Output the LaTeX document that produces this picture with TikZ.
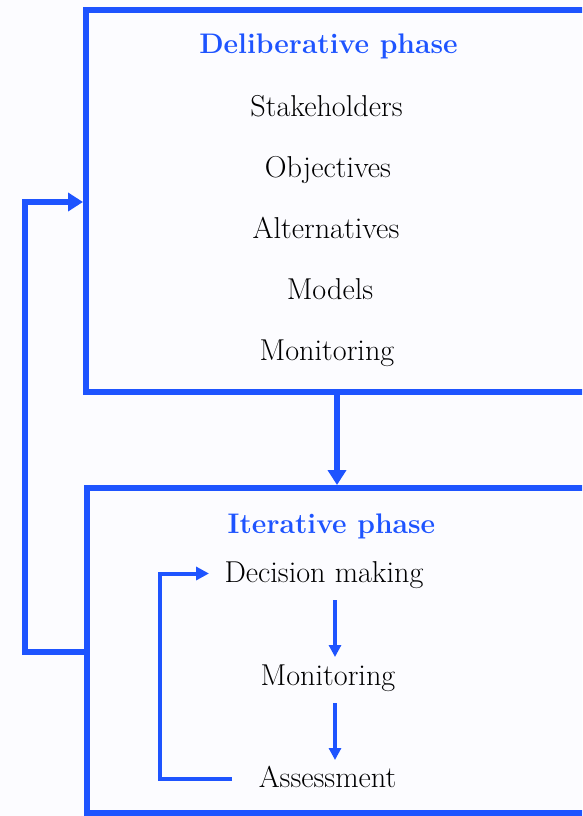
\documentclass[tikz,border=0pt]{standalone}
\usetikzlibrary{arrows.meta}
\definecolor{pblue}{RGB}{30,84,255}
\tikzset{
  phasebox/.style={draw=pblue, line width=6pt, inner sep=0pt, rectangle},
  titletext/.style={text=pblue, font=\fontsize{28.3}{32}\selectfont\bfseries, anchor=base, inner sep=0pt},
  itemtext/.style={text=black, font=\fontsize{30.2}{34}\selectfont, anchor=base, inner sep=0pt},
  bigarrow/.style={draw=pblue, line width=5.5pt, -{Triangle[length=15pt,width=18pt]}},
  midarrow/.style={draw=pblue, line width=4pt, -{Triangle[length=13pt,width=13pt]}},
  smallarrow/.style={draw=pblue, line width=3.5pt, -{Triangle[length=12pt,width=12pt]}}
}
\begin{document}
\begin{tikzpicture}[x=1pt,y=-1pt]
\useasboundingbox (0,0) rectangle (582,816);
\fill[white!99!blue] (0,0) rectangle (582,816);
\clip (0,0) rectangle (582,816);
% boxes
\node[phasebox, minimum width=510pt, minimum height=381.5pt] (delib) at (341,201.25) {};
\node[phasebox, minimum width=509pt, minimum height=325pt] (iter) at (341.5,650.5) {};
% texts top
\node[titletext] (dt) at (328.5,53) {Deliberative phase};
\node[itemtext] (st) at (326.5,116) {Stakeholders};
\node[itemtext] (ob) at (328,177) {Objectives};
\node[itemtext] (al) at (326,238) {Alternatives};
\node[itemtext] (mo) at (330,299) {Models};
\node[itemtext] (mn) at (327,360) {Monitoring};
% texts bottom
\node[titletext] (it) at (331.5,533) {Iterative phase};
\node[itemtext] (dm) at (324,582) {Decision making};
\node[itemtext] (mi) at (328,685) {Monitoring};
\node[itemtext] (as) at (327.5,787) {Assessment};
% coordinates
\coordinate (mx) at (337,0);
\coordinate (lt) at (25,202);
\coordinate (lb) at (25,652);
\coordinate (a1s) at (335,600);
\coordinate (a1e) at (335,657);
\coordinate (a2s) at (335,703);
\coordinate (a2e) at (335,760);
\coordinate (ib) at (159.5,778.5);
\coordinate (it1) at (159.5,573.5);
\coordinate (ibs) at (232,778.5);
\coordinate (ite) at (209,573.5);
% connectors
\draw[bigarrow] (delib.south -| mx) -- (iter.north -| mx);
\draw[bigarrow] (iter.west |- lb) -- (lb) -- (lt) -- (delib.west |- lt);
\draw[midarrow] (ibs) -- (ib) -- (it1) -- (ite);
\draw[smallarrow] (a1s) -- (a1e);
\draw[smallarrow] (a2s) -- (a2e);
\end{tikzpicture}
\end{document}
